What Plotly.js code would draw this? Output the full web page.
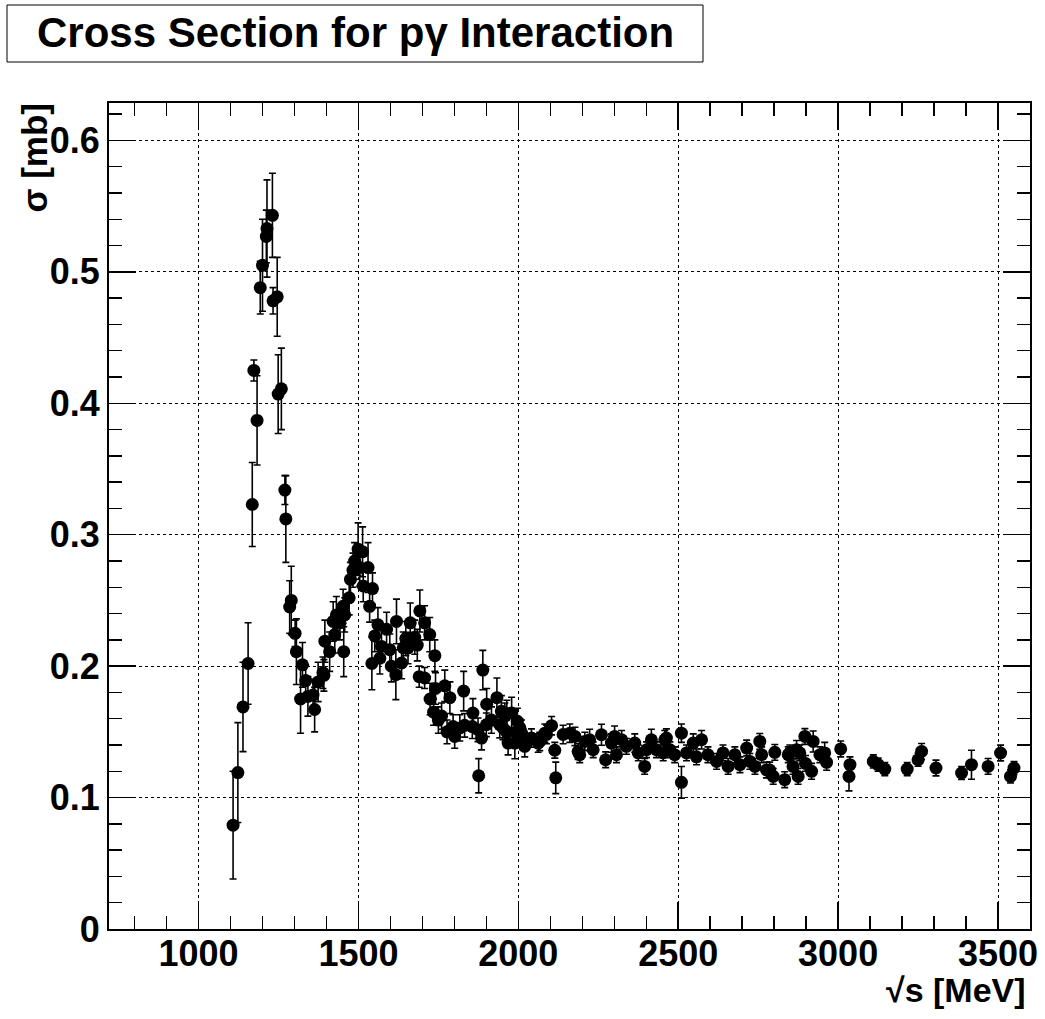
<!DOCTYPE html>
<html>
<head>
<meta charset="utf-8">
<script src="https://cdn.plot.ly/plotly-3.0.1.min.js"></script>
<style>html,body{margin:0;padding:0;background:#fff;}#chart{width:1045px;height:1019px;}</style>
</head>
<body>
<div id="chart"></div>
<script>
// ---- data ----
const sqrtS = [
1108,1123,1139,1155,1168,1173,1183,1193,1200,1212,1214,1231,1233,1246,1249,1259,1270,1273,1285,1290,
1302,1306,1319,1325,1335,1342,1358,1363,1374,1389,1392,1395,1410,1421,1426,1431,1442,1452,1454,1457,
1471,1475,1483,1488,1499,1504,1513,1515,1530,1535,1542,1544,1551,1561,1567,1572,1588,1598,1603,1617,
1619,1635,1640,1648,1655,1662,1676,1684,1690,1692,1707,1707,1723,1724,1735,1739,1741,1750,1760,1770,
1777,1786,1796,1801,1817,1829,1832,1856,1858,1874,1876,1885,1889,1900,1901,1916,1933,1942,1947,1952,
1958,1963,1964,1968,1979,1989,1994,1997,2005,2010,2015,2020,2041,2062,2067,2083,2088,2104,2114,2117,
2140,2161,2177,2187,2192,2208,2223,2234,2260,2273,2291,2301,2307,2323,2338,2364,2375,2395,2401,2416,
2432,2453,2458,2463,2474,2489,2510,2510,2526,2547,2557,2573,2593,2620,2640,2656,2677,2693,2714,2724,
2740,2755,2761,2776,2786,2797,2802,2833,2844,2849,2859,2870,2875,2880,2896,2898,2917,2922,2943,2958,
2964,3008,3034,3037,3110,3125,3146,3216,3250,3261,3306,3386,3417,3469,3508,3539,3550
];
const sigma = [
0.079,0.119,0.169,0.202,0.323,0.425,0.387,0.488,0.505,0.527,0.533,0.543,0.478,0.481,0.407,0.411,0.334,0.312,0.245,0.250,
0.225,0.211,0.175,0.201,0.189,0.177,0.178,0.167,0.188,0.195,0.193,0.219,0.211,0.234,0.224,0.239,0.233,0.2455,0.211,0.239,
0.252,0.266,0.273,0.280,0.289,0.275,0.287,0.261,0.275,0.2455,0.202,0.259,0.223,0.2315,0.206,0.215,0.228,0.2125,0.200,0.1935,
0.234,0.2024,0.214,0.221,0.2138,0.233,0.222,0.216,0.192,0.242,0.233,0.191,0.224,0.175,0.165,0.208,0.183,0.159,0.162,0.185,
0.150,0.176,0.154,0.1465,0.153,0.181,0.155,0.154,0.1643,0.1516,0.1166,0.1453,0.197,0.1554,0.171,0.159,0.176,0.1554,0.1656,0.153,
0.162,0.150,0.164,0.1415,0.1643,0.1415,0.149,0.158,0.153,0.149,0.144,0.139,0.1453,0.1415,0.1427,0.149,0.148,0.1547,0.136,0.115,
0.148,0.149,0.1465,0.135,0.1326,0.1427,0.144,0.1364,0.1478,0.1288,0.1415,0.1465,0.1326,0.144,0.139,0.1415,0.134,0.1237,0.1364,0.144,
0.1364,0.134,0.144,0.1453,0.1364,0.1326,0.149,0.1116,0.134,0.1415,0.131,0.144,0.1326,0.1275,0.134,0.1237,0.1326,0.125,0.1377,0.1275,
0.1237,0.1427,0.1326,0.121,0.121,0.1161,0.1344,0.1136,0.1326,0.134,0.1237,0.1364,0.1161,0.134,0.1465,0.126,0.120,0.1427,0.1326,0.134,
0.1268,0.137,0.1161,0.125,0.1275,0.125,0.1217,0.1217,0.1288,0.1351,0.1225,0.1187,0.125,0.1237,0.1339,0.1161,0.1225
];
const sigmaErr = [
0.041,0.038,0.034,0.031,0.032,0.008,0.034,0.020,0.035,0.020,0.037,0.032,0.010,0.030,0.030,0.031,0.011,0.033,0.020,0.026,
0.010,0.025,0.026,0.017,0.012,0.015,0.012,0.017,0.015,0.012,0.012,0.016,0.015,0.015,0.014,0.014,0.013,0.013,0.019,0.013,
0.013,0.013,0.013,0.014,0.020,0.014,0.019,0.012,0.019,0.012,0.020,0.012,0.012,0.013,0.012,0.012,0.013,0.012,0.012,0.019,
0.017,0.012,0.012,0.013,0.012,0.015,0.013,0.012,0.008,0.016,0.013,0.008,0.013,0.012,0.010,0.012,0.012,0.010,0.010,0.012,
0.009,0.012,0.009,0.009,0.010,0.015,0.009,0.009,0.011,0.009,0.013,0.009,0.015,0.009,0.012,0.010,0.015,0.010,0.012,0.009,
0.010,0.009,0.010,0.009,0.012,0.012,0.009,0.010,0.007,0.010,0.008,0.008,0.007,0.007,0.007,0.007,0.007,0.007,0.006,0.012,
0.007,0.007,0.007,0.006,0.006,0.007,0.008,0.006,0.008,0.006,0.007,0.008,0.006,0.007,0.006,0.007,0.006,0.006,0.006,0.008,
0.006,0.006,0.007,0.007,0.006,0.006,0.007,0.012,0.006,0.007,0.006,0.007,0.006,0.006,0.006,0.006,0.006,0.006,0.006,0.006,
0.006,0.006,0.006,0.006,0.006,0.006,0.006,0.006,0.006,0.006,0.006,0.007,0.006,0.006,0.006,0.006,0.006,0.008,0.006,0.008,
0.006,0.006,0.011,0.006,0.005,0.005,0.005,0.005,0.005,0.006,0.006,0.005,0.011,0.006,0.006,0.005,0.005
];
const titleText = 'Cross Section for p\u03b3 Interaction';
const xTitleText = '\u221As [MeV]';
const yTitleText = '\u03c3 [mb]';

// ---- layout geometry (pixels) ----
const W = 1045, H = 1019;
const M = {l: 109, r: 15, t: 103, b: 90};
const PW = W - M.l - M.r, PH = H - M.t - M.b;
const px2x = p => (p - M.l) / PW;
const px2y = p => (H - M.b - p) / PH;

const FONT = 'Liberation Sans, Arial, Helvetica, sans-serif';

const trace = {
  type: 'scatter', mode: 'markers',
  x: sqrtS, y: sigma,
  marker: {color: '#000', size: 13},
  error_y: {type: 'data', array: sigmaErr, visible: true, color: '#000', thickness: 1.6, width: 3.5},
  hoverinfo: 'x+y'
};

const axisCommon = {
  showline: true, linecolor: '#000', linewidth: 2, mirror: 'allticks',
  ticks: 'inside', ticklen: 27, tickwidth: 1.5, tickcolor: '#000',
  showgrid: true, gridcolor: '#000', gridwidth: 1, griddash: 'dot',
  zeroline: false,
  tickfont: {family: FONT, size: 36, color: '#000', weight: 'bold'}
};

const layout = {
  width: W, height: H,
  margin: M,
  paper_bgcolor: '#fff', plot_bgcolor: '#fff',
  showlegend: false,
  xaxis: Object.assign({}, axisCommon, {
    range: [720, 3600], dtick: 500, tick0: 0, ticklabelstandoff: -8,
    minor: {dtick: 100, ticklen: 13, tickwidth: 1.5, tickcolor: '#000', ticks: 'inside', showgrid: false}
  }),
  yaxis: Object.assign({}, axisCommon, {
    range: [0, 0.6285], dtick: 0.1, tick0: 0,
    minor: {dtick: 0.02, ticklen: 13, tickwidth: 1.5, tickcolor: '#000', ticks: 'inside', showgrid: false}
  }),
  shapes: [{
    type: 'rect', xref: 'paper', yref: 'paper', layer: 'above',
    x0: px2x(7), x1: px2x(703), y0: px2y(62), y1: px2y(5),
    line: {color: '#000', width: 1}, fillcolor: 'rgba(0,0,0,0)'
  }],
  annotations: [
    {text: titleText, xref: 'paper', yref: 'paper', x: px2x(355), y: px2y(32),
     xanchor: 'center', yanchor: 'middle', showarrow: false,
     font: {family: FONT, size: 42, color: '#000', weight: 'bold'}},
    {text: xTitleText, xref: 'paper', yref: 'paper', x: px2x(1028), y: px2y(990),
     xanchor: 'right', yanchor: 'middle', showarrow: false,
     font: {family: FONT, size: 34, color: '#000', weight: 'bold'}},
    {text: yTitleText, xref: 'paper', yref: 'paper', x: px2x(34), y: px2y(102),
     xanchor: 'center', yanchor: 'top', showarrow: false, textangle: -90,
     font: {family: FONT, size: 35, color: '#000', weight: 'bold'}}
  ]
};

Plotly.newPlot('chart', [trace], layout, {displayModeBar: false, staticPlot: true});
</script>
</body>
</html>
